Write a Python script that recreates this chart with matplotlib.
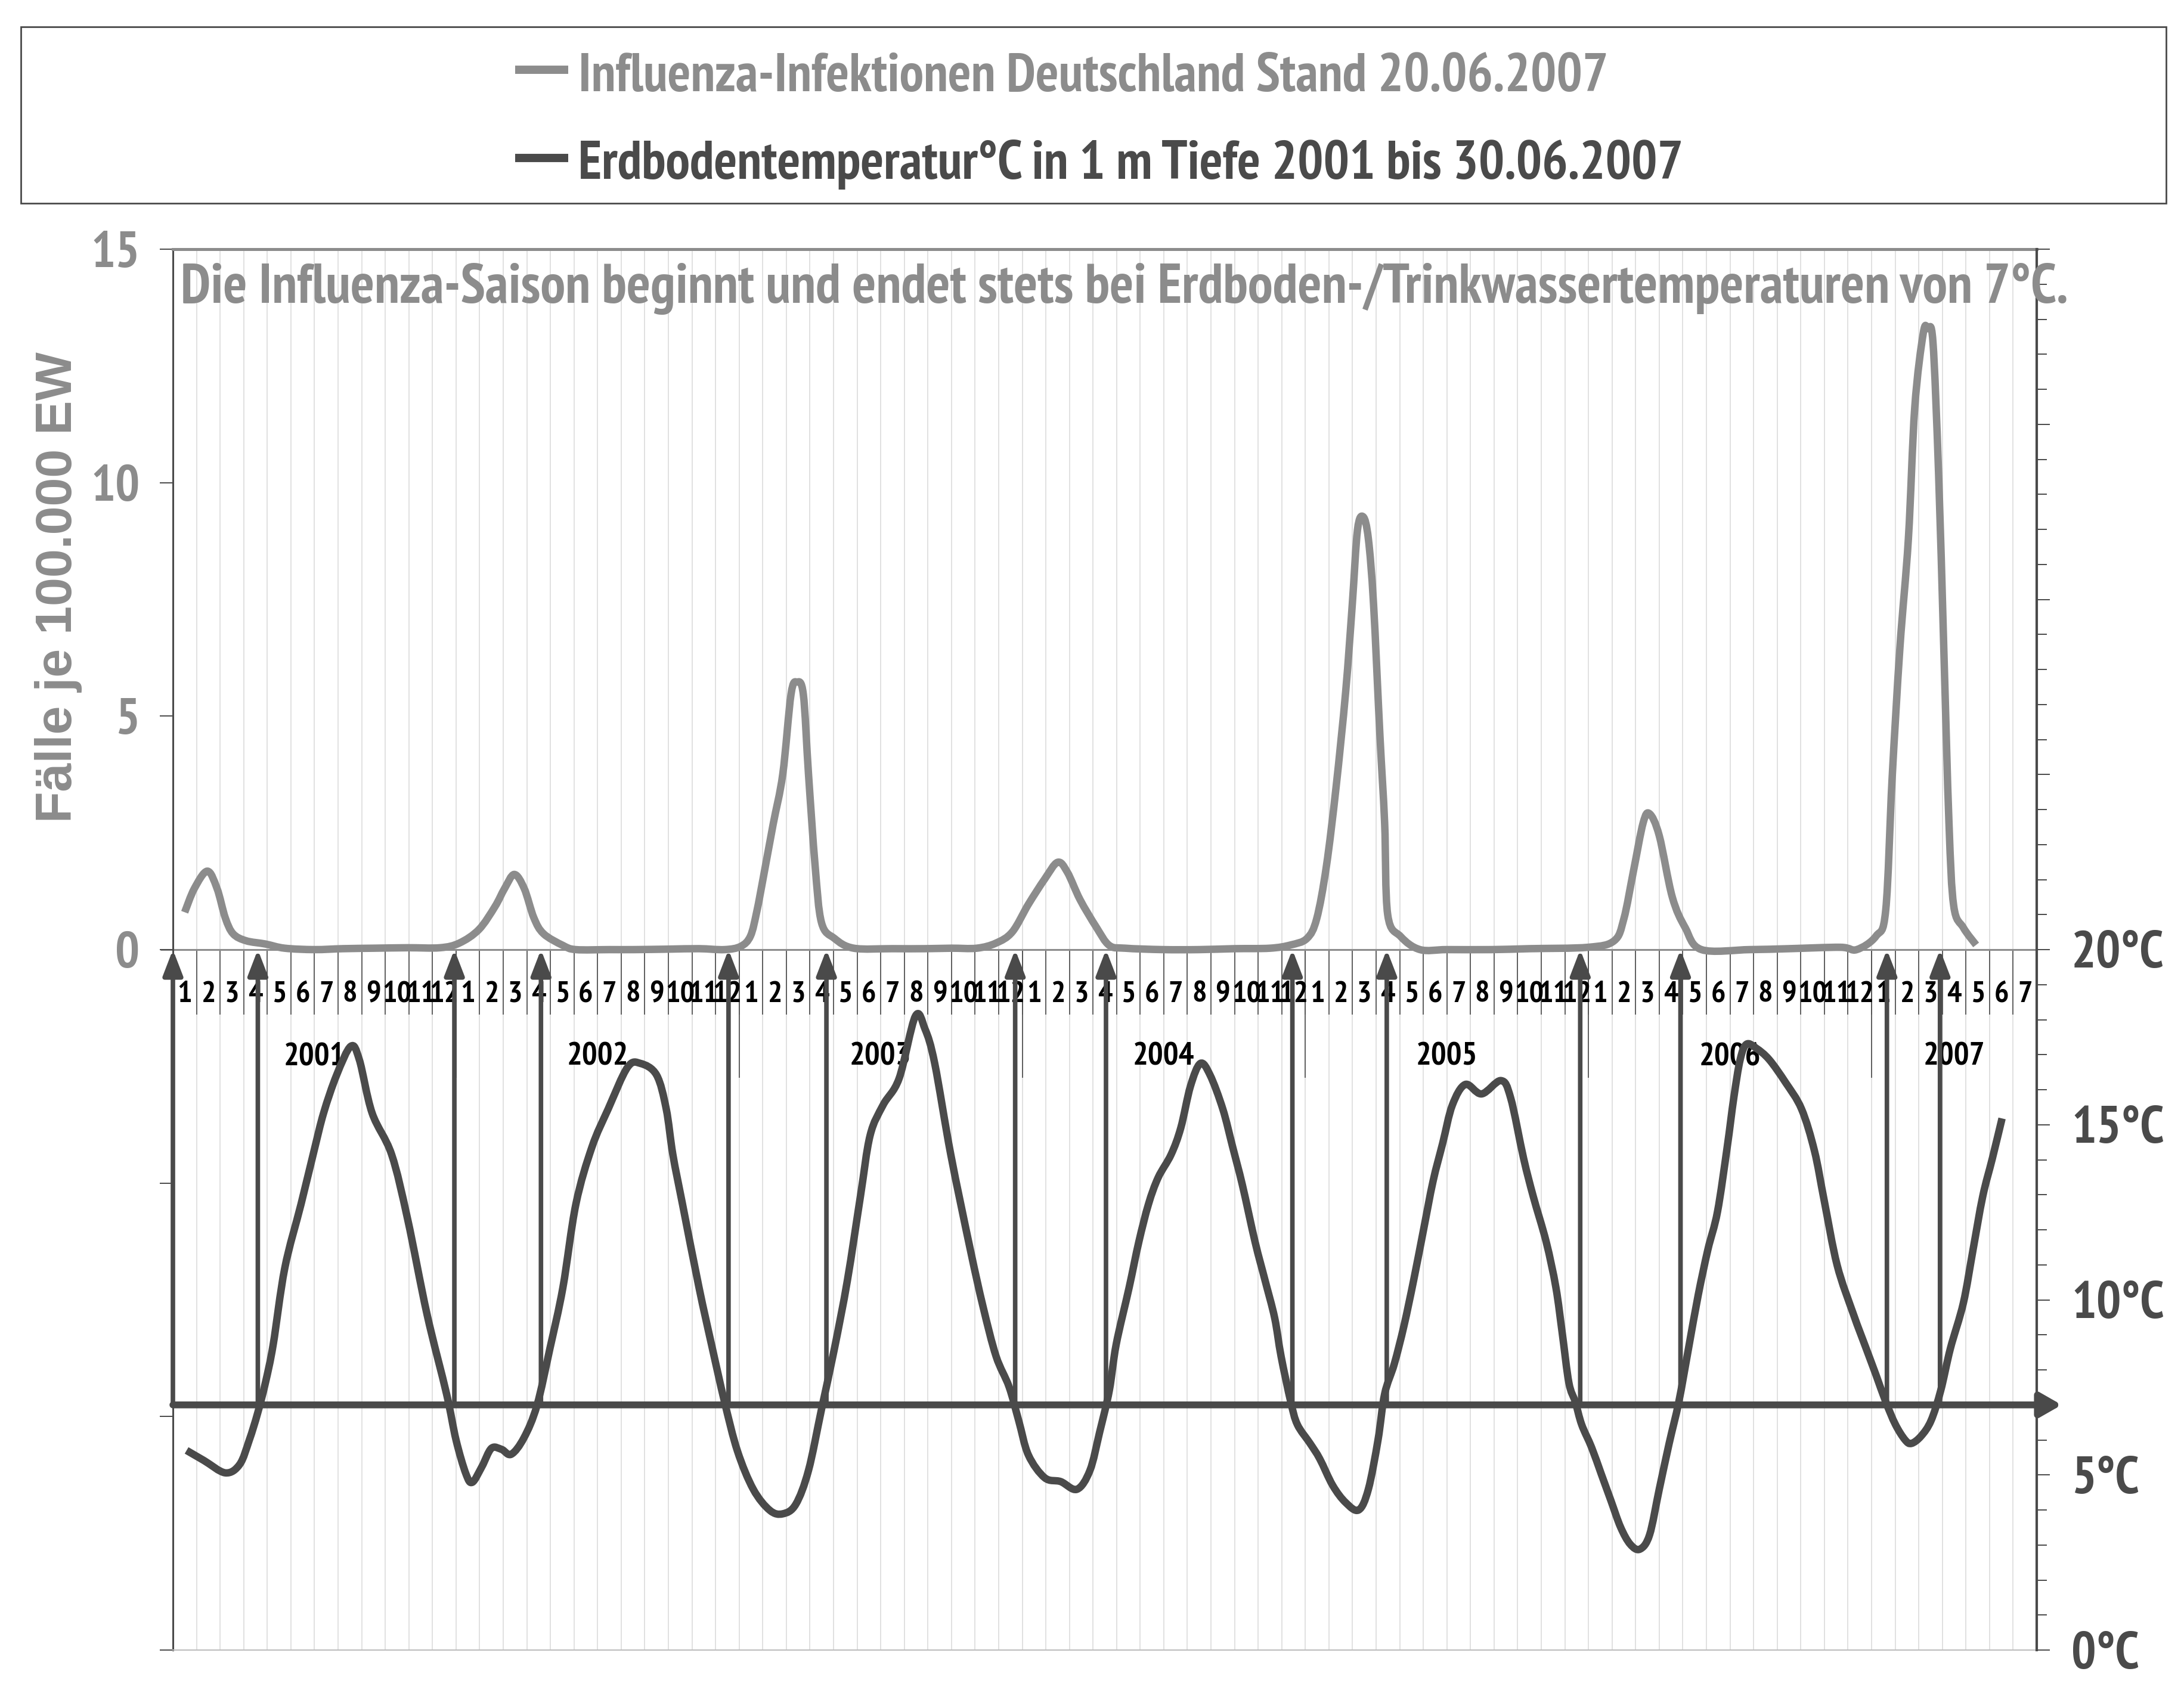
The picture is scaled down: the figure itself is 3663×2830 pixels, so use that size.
import numpy as np
import matplotlib
matplotlib.use('Agg')
import matplotlib.pyplot as plt
from matplotlib.lines import Line2D
from matplotlib.path import Path
from matplotlib.patches import PathPatch

# Influenza cases per 100.000 inhabitants (x = months since Jan 2001)
flu_month = [0.50, 0.91, 1.46, 1.87, 2.22, 2.55, 3.1, 3.92, 4.74, 6.0,
             7.2, 8.5, 9.95, 11.32, 12.14, 12.97, 13.65, 14.06, 14.47, 14.89,
             15.3, 15.71, 16.53, 17.08, 18.5, 19.55, 21.0, 22.3, 23.38, 24.07,
             24.48, 24.75, 25.03, 25.44, 25.85, 26.2, 26.45, 26.72, 26.94, 27.22,
             27.49, 28.04, 28.86, 30.5, 31.88, 33.0, 34.07, 34.89, 35.58, 36.26,
             36.95, 37.5, 37.91, 38.45, 39.14, 39.69, 40.37, 41.96, 43.5, 45.0,
             46.5, 47.38, 48.07, 48.48, 48.89, 49.3, 49.71, 49.99, 50.21, 50.45,
             50.67, 50.89, 51.16, 51.36, 51.49, 52.04, 52.86, 54.0, 55.88, 57.5,
             59.99, 61.09, 61.5, 61.91, 62.32, 62.59, 63.0, 63.55, 64.1, 64.79,
             66.84, 68.5, 70.68, 71.37, 72.19, 72.6, 72.87, 73.2, 73.56, 73.83,
             74.19, 74.38, 74.6, 74.84, 75.06, 75.28, 75.48, 75.89, 76.43]
flu_value = [0.80, 1.31, 1.68, 1.31, 0.68, 0.34, 0.19, 0.12, 0.03, 0.00,
             0.02, 0.03, 0.04, 0.04, 0.14, 0.43, 0.92, 1.31, 1.61, 1.31,
             0.68, 0.34, 0.09, 0.00, 0.00, 0.00, 0.01, 0.02, 0.00, 0.07,
             0.29, 0.82, 1.56, 2.68, 3.76, 5.47, 5.73, 5.47, 3.76, 1.80,
             0.58, 0.24, 0.03, 0.02, 0.02, 0.03, 0.03, 0.14, 0.38, 0.97,
             1.51, 1.87, 1.66, 1.07, 0.48, 0.09, 0.03, 0.00, 0.00, 0.02,
             0.03, 0.10, 0.24, 0.66, 1.78, 3.47, 5.53, 7.40, 8.99, 9.27,
             8.80, 7.40, 4.59, 2.72, 0.75, 0.28, 0.00, 0.00, 0.00, 0.02,
             0.05, 0.19, 0.66, 1.69, 2.72, 2.91, 2.44, 1.13, 0.47, 0.00,
             0.00, 0.02, 0.05, 0.00, 0.29, 0.85, 3.66, 6.46, 8.80, 11.61,
             13.20, 13.30, 13.02, 10.20, 6.46, 2.72, 0.94, 0.47, 0.10]

# soil temperature in 1 m depth (deg C)
temp_month = [0.58, 1.32, 2.22, 2.83, 3.24, 3.59, 3.92, 4.25, 4.74, 5.43,
              5.98, 6.39, 6.94, 7.54, 7.90, 8.44, 9.27, 9.95, 10.77, 11.60,
              12.00, 12.42, 12.69, 13.10, 13.50, 13.93, 14.34, 14.88, 15.43, 15.98,
              16.53, 17.08, 17.76, 18.45, 19.27, 19.82, 20.50, 20.91, 21.19, 21.60,
              22.30, 22.83, 23.38, 23.93, 24.60, 25.30, 25.85, 26.40, 26.94, 27.49,
              28.04, 28.59, 29.14, 29.55, 30.10, 30.78, 31.47, 31.88, 32.29, 32.97,
              33.80, 34.34, 34.89, 35.44, 35.85, 36.26, 36.95, 37.63, 38.32, 38.87,
              39.28, 39.69, 39.98, 40.53, 40.94, 41.35, 41.76, 42.31, 42.72, 43.13,
              43.55, 43.96, 44.50, 44.92, 45.33, 45.87, 46.29, 46.70, 46.97, 47.38,
              47.66, 48.20, 48.61, 49.16, 49.71, 50.26, 50.67, 51.08, 51.36, 51.77,
              52.18, 52.59, 53.00, 53.41, 53.82, 54.23, 54.78, 55.47, 56.29, 56.70,
              57.25, 57.66, 58.21, 58.62, 58.89, 59.17, 59.44, 59.71, 60.13, 60.54,
              60.95, 61.36, 61.77, 62.18, 62.59, 63.00, 63.42, 63.83, 64.24, 64.65,
              65.06, 65.47, 65.88, 66.16, 66.43, 66.70, 67.12, 67.66, 68.35, 69.03,
              69.58, 69.99, 70.54, 71.23, 71.77, 72.19, 72.60, 73.01, 73.42, 73.69,
              74.10, 74.52, 74.93, 75.34, 75.89, 76.30, 76.71, 77.12, 77.53]
temp_value = [5.70, 5.41, 5.06, 5.30, 6.00, 6.76, 7.63, 8.72, 10.90, 12.73,
              14.25, 15.34, 16.42, 17.24, 16.86, 15.34, 14.15, 12.30, 9.59, 7.31,
              6.00, 5.03, 4.79, 5.24, 5.76, 5.73, 5.59, 6.06, 6.98, 8.61,
              10.35, 12.73, 14.36, 15.45, 16.64, 16.75, 16.42, 15.45, 14.15, 12.73,
              10.35, 8.72, 7.09, 5.68, 4.59, 3.99, 3.89, 4.16, 5.13, 6.87,
              8.61, 10.56, 12.95, 14.69, 15.56, 16.32, 18.10, 17.73, 16.75, 14.15,
              11.43, 9.80, 8.39, 7.52, 6.55, 5.57, 4.92, 4.81, 4.59, 5.13,
              6.22, 7.41, 8.72, 10.35, 11.65, 12.73, 13.49, 14.15, 14.91, 16.10,
              16.75, 16.42, 15.45, 14.36, 13.28, 11.65, 10.56, 9.48, 8.39, 7.09,
              6.44, 5.90, 5.46, 4.70, 4.21, 4.00, 4.59, 6.00, 7.31, 8.17,
              9.26, 10.56, 11.97, 13.38, 14.47, 15.56, 16.15, 15.88, 16.26, 15.77,
              14.04, 12.95, 11.65, 10.35, 9.04, 7.63, 7.09, 6.44, 5.79, 5.03,
              4.27, 3.51, 3.02, 2.88, 3.29, 4.59, 5.90, 7.09, 8.61, 10.13,
              11.43, 12.52, 14.36, 15.77, 16.86, 17.30, 17.18, 16.86, 16.21, 15.45,
              14.25, 12.84, 10.99, 9.59, 8.61, 7.85, 7.09, 6.44, 6.00, 5.90,
              6.11, 6.55, 7.41, 8.61, 9.91, 11.43, 12.95, 14.04, 15.18]

# months where the soil temperature crosses 7 deg C
arrow_month = [0, 3.6, 11.93, 15.6, 23.55, 27.7, 35.7, 39.55, 47.45, 51.45,
               59.65, 63.9, 72.65, 74.9]
threshold = 7

month_labels = [str(m) for m in range(1, 13)] * 6 + [str(m) for m in range(1, 8)]
years = ['2001', '2002', '2003', '2004', '2005', '2006', '2007']
year_start = [0, 12, 24, 36, 48, 60, 72]
year_end = [12, 24, 36, 48, 60, 72, 79]

legend_texts = ['Influenza-Infektionen Deutschland Stand 20.06.2007',
                'Erdbodentemperatur°C in 1 m Tiefe 2001 bis 30.06.2007']
note = 'Die Influenza-Saison beginnt und endet stets bei Erdboden-/Trinkwassertemperaturen von 7°C.'

narrow = ['PT Sans Narrow', 'Roboto Condensed', 'DejaVu Sans']
wide = ['Liberation Sans', 'DejaVu Sans']

gray = '#8c8c8c'
dark = '#4a4a4a'
W, H = 3663, 2830


def smooth_path(xs, ys):
    # smoothed line like the spreadsheet one (Catmull-Rom as Bezier segments)
    p = np.column_stack([xs, ys]).astype(float)
    p = np.vstack([p[0], p, p[-1]])
    verts = [p[1]]
    codes = [Path.MOVETO]
    for i in range(1, len(p) - 2):
        c1 = p[i] + (p[i + 1] - p[i - 1]) / 6
        c2 = p[i + 1] - (p[i + 2] - p[i]) / 6
        verts += [c1, c2, p[i + 1]]
        codes += [Path.CURVE4] * 3
    return Path(verts, codes)


fig = plt.figure(figsize=(W / 100, H / 100), dpi=100)
ax = fig.add_axes([290 / W, 1 - 2768 / H, (3416 - 290) / W, (2768 - 418) / H])
ax2 = ax.twinx()

n_months = len(month_labels)
ax.set_xlim(0, n_months)
ax.set_ylim(-15, 15)
ax2.set_ylim(0, 40)
ax.set_xticks([])

# grid + category axis
ax.vlines(np.arange(1, n_months), -15, 15, color='#dedede', lw=1.3, zorder=0)
ax.vlines(np.arange(0, n_months + 1), -1.39, 0, color='#555555', lw=1.3, zorder=1)
ax.vlines(year_start[1:], -2.75, 0, color='#555555', lw=1.3, zorder=1)
ax.hlines(0, -0.53, n_months, color=gray, lw=2.2, zorder=1, clip_on=False)

for i, lab in enumerate(month_labels):
    ax.text(i + 0.5, -0.96, lab, ha='center', va='center', fontsize=37,
            family=narrow, weight='bold', color='black')
for y, a, b in zip(years, year_start, year_end):
    ax.text((a + b) / 2, -2.3, y, ha='center', va='center', fontsize=39,
            family=narrow, weight='bold', color='black')

# data lines
ax.add_patch(PathPatch(smooth_path(flu_month, flu_value), fill=False, ec=gray,
                       lw=9, joinstyle='round', capstyle='butt', zorder=3))
ax2.add_patch(PathPatch(smooth_path(temp_month, temp_value), fill=False, ec=dark,
                        lw=9, joinstyle='round', capstyle='butt', zorder=3))

# arrows
for m in arrow_month:
    ax2.annotate('', xy=(m, 20), xytext=(m, threshold), annotation_clip=False,
                 arrowprops=dict(arrowstyle='-|>,head_length=2.6,head_width=1.0',
                                 mutation_scale=10, lw=5.5, color=dark,
                                 shrinkA=0, shrinkB=0))
ax2.annotate('', xy=(80.06, threshold), xytext=(0, threshold), annotation_clip=False,
             arrowprops=dict(arrowstyle='-|>,head_length=2.1,head_width=1.2',
                             mutation_scale=10, lw=8.3, color=dark,
                             shrinkA=0, shrinkB=0))

# left axis
ax.set_yticks([-15, -10, -5, 0, 5, 10, 15])
ax.set_yticklabels(['', '', '', '0', '5', '10', '15'])
ax.tick_params(axis='y', direction='out', length=16, width=1.4, color=dark,
               labelsize=62, labelcolor=gray, pad=24)
for t in ax.get_yticklabels():
    t.set_fontweight('bold')
    t.set_family(narrow)

# right axis
ax2.set_yticks(range(0, 41, 5))
ax2.set_yticklabels(['0°C', '5°C', '10°C', '15°C', '20°C', '', '', '', ''])
ax2.set_yticks(range(0, 41), minor=True)
ax2.tick_params(axis='y', which='major', direction='out', length=16, width=1.4,
                color=dark, labelsize=63, labelcolor=dark, pad=26)
ax2.tick_params(axis='y', which='minor', direction='out', length=12, width=1.4,
                color=dark)
for t in ax2.get_yticklabels():
    t.set_fontweight('bold')
    t.set_family(narrow)

for s in ['top', 'bottom', 'left']:
    ax2.spines[s].set_visible(False)
ax.spines['right'].set_visible(False)
ax.spines['top'].set_color(gray)
ax.spines['top'].set_linewidth(3.6)
ax.spines['bottom'].set_color('#bdbdbd')
ax.spines['bottom'].set_linewidth(1.5)
ax.spines['left'].set_color(dark)
ax.spines['left'].set_linewidth(2.2)
ax2.spines['right'].set_color(dark)
ax2.spines['right'].set_linewidth(3)

fig.text(98 / W, 1 - 985 / H, 'Fälle je 100.000 EW', rotation=90, ha='center',
         va='center', fontsize=62, family=wide, weight='bold', color=gray)

fig.text(303 / W, 1 - 508 / H, note, va='baseline', ha='left', fontsize=67.5,
         family=narrow, weight='bold', color=gray)

# legend box
fig.add_artist(plt.Rectangle((35 / W, 1 - 341 / H), (3633 - 35) / W, (341 - 45) / H,
                             transform=fig.transFigure, fill=False, ec=dark, lw=2))
for txt, col, ym, yb in zip(legend_texts, [gray, dark], [117, 265], [153, 300]):
    fig.add_artist(Line2D([864 / W, 953 / W], [1 - ym / H] * 2, transform=fig.transFigure,
                          lw=10, color=col, solid_capstyle='butt'))
    fig.text(970 / W, 1 - yb / H, txt, va='baseline', ha='left', fontsize=65.5,
             family=narrow, weight='bold', color=col)

fig.savefig('out.png', dpi=100, facecolor='white')
